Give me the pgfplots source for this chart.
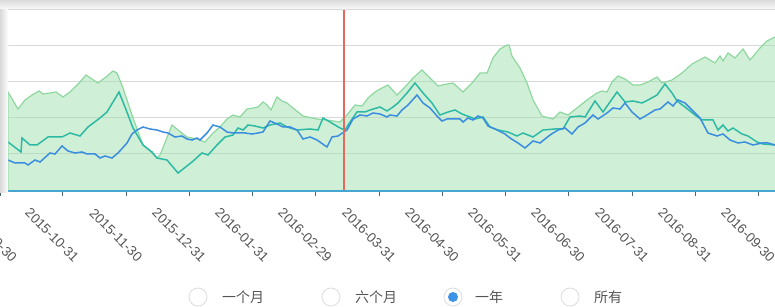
\documentclass[border=0pt]{standalone}
\usepackage{pgfplots}
\pgfplotsset{compat=1.18}
\usepackage{fontspec}
\setmainfont{Liberation Sans}
\newfontfamily\cjk{Noto Sans CJK SC}
\definecolor{gridgray}{HTML}{D9D9D9}
\definecolor{axisblue}{HTML}{45A6D2}
\definecolor{tickc}{HTML}{4A6478}
\definecolor{redline}{HTML}{E8675F}
\definecolor{greenline}{HTML}{8ED8A0}
\definecolor{greenfill}{HTML}{9FE0AE}
\definecolor{tealc}{HTML}{2DBAA5}
\definecolor{bluec}{HTML}{3B8DE0}
\definecolor{labelgray}{HTML}{555555}
\definecolor{ringgray}{HTML}{DDDDDD}
\definecolor{dotblue}{HTML}{3D93E6}
\begin{document}
\begin{tikzpicture}
\useasboundingbox (0,0) rectangle (775pt,307pt);
\shade[top color=gray!28, bottom color=white] (0,296pt) rectangle (775pt,307pt);
\begin{axis}[
  at={(0pt,116pt)}, anchor=south west,
  scale only axis, width=775pt, height=181pt,
  xmin=0, xmax=775, ymin=0, ymax=181,
  axis lines*=left,
  x axis line style={draw=none},
  y axis line style={draw=none},
  ytick={37,73,109,145,181}, yticklabels={},
  ytick style={draw=none},
  ymajorgrids, grid style={draw=gridgray, line width=1pt},
  xtick={0,62,126,189,252,315,379,442,505,568,632,695,758},
  xticklabels={2015-09-30,2015-10-31,2015-11-30,2015-12-31,2016-01-31,2016-02-29,2016-03-31,2016-04-30,2016-05-31,2016-06-30,2016-07-31,2016-08-31,2016-09-30},
  xtick style={draw=tickc, line width=1pt},
  tick align=outside, major tick length=5pt,
  xticklabel style={font=\fontsize{13.5}{14}\selectfont, text=labelgray, anchor=center, xshift=-10pt, yshift=-39pt, rotate=-45},
  clip=false,
]
\addplot[draw=greenline, line width=1.2pt, fill=greenfill, fill opacity=0.5] coordinates {
(8,99)(18,82)(25,91)(32,96)(39,100)(43,97)(50,98)(56,99)(63,94)(70,99)(80,109)(86,116)(92,112)(98,108)(106,114)(113,120)(117,118)(123,103)(133,73)(143,46)(150,40)(157,33)(160,36)(166,51)(172,66)(178,61)(183,57)(187,54)(197,52)(205,49)(213,58)(220,64)(227,72)(233,76)(240,74)(247,82)(253,83)(258,84)(263,89)(267,86)(271,81)(277,94)(282,90)(287,88)(293,83)(303,75)(317,72)(327,71)(340,69)(347,76)(355,86)(362,85)(368,93)(375,99)(382,103)(388,106)(397,96)(405,104)(413,113)(422,121)(430,113)(438,105)(447,107)(453,108)(463,99)(472,108)(480,118)(487,118)(493,133)(500,142)(507,146)(509,146)(512,135)(520,123)(527,108)(533,91)(542,75)(553,72)(560,79)(568,76)(577,83)(587,91)(597,98)(602,100)(607,99)(612,109)(618,115)(625,112)(633,106)(640,106)(648,109)(657,114)(662,108)(672,111)(682,118)(692,127)(705,134)(715,128)(720,135)(723,130)(728,138)(735,133)(743,142)(750,131)(760,143)(767,150)(775,154)(780,156)
} \closedcycle;
\addplot[draw=tealc, line width=1.5pt] coordinates {
(8,49)(21,39)(22,53)(30,46)(37,46)(48,54)(62,54)(70,58)(80,55)(88,64)(100,73)(107,79)(113,89)(119,99)(125,84)(133,63)(143,46)(152,39)(157,33)(167,31)(178,18)(192,29)(202,38)(208,36)(217,46)(225,54)(233,56)(238,63)(243,61)(248,66)(255,65)(263,63)(270,66)(280,68)(287,64)(297,61)(310,62)(318,61)(323,73)(330,69)(340,63)(345,61)(350,69)(357,79)(365,79)(370,81)(380,84)(387,80)(393,84)(398,88)(407,98)(415,108)(423,98)(432,88)(440,76)(448,79)(455,81)(462,77)(470,74)(475,72)(483,74)(490,64)(498,61)(508,59)(517,55)(523,58)(533,54)(543,61)(555,62)(563,62)(570,74)(580,75)(585,74)(595,90)(603,79)(617,99)(625,89)(633,90)(642,88)(648,91)(657,96)(665,107)(672,98)(677,90)(685,84)(695,76)(702,71)(713,71)(718,61)(723,66)(728,60)(733,63)(742,57)(748,55)(757,49)(763,47)(775,46)(780,46)
};
\addplot[draw=bluec, line width=1.5pt] coordinates {
(8,31)(15,28)(25,28)(28,26)(35,31)(40,29)(50,38)(55,37)(62,45)(68,40)(75,38)(82,39)(87,37)(95,37)(100,33)(105,35)(112,33)(118,38)(127,48)(132,57)(137,61)(143,64)(150,62)(157,61)(163,59)(168,58)(175,54)(182,55)(187,52)(192,51)(197,53)(200,51)(207,58)(213,66)(220,64)(227,59)(233,58)(240,58)(245,58)(252,57)(258,58)(263,59)(270,70)(277,67)(283,64)(290,64)(297,61)(303,52)(310,54)(317,51)(327,44)(332,54)(338,55)(347,61)(353,72)(360,76)(367,75)(373,78)(380,77)(387,74)(390,76)(397,75)(402,81)(408,86)(417,96)(423,88)(430,83)(437,75)(442,70)(447,72)(460,72)(463,69)(468,73)(473,71)(478,75)(483,73)(488,65)(495,62)(505,57)(510,53)(518,48)(525,43)(533,50)(540,48)(550,56)(558,61)(565,63)(572,57)(578,64)(585,68)(593,76)(598,72)(607,78)(613,83)(620,82)(625,88)(632,79)(640,72)(647,76)(655,81)(660,82)(668,89)(673,85)(678,91)(685,88)(693,80)(700,73)(708,58)(717,55)(723,57)(730,51)(738,48)(745,49)(753,46)(762,48)(768,48)(775,46)(780,45)
};
\addplot[draw=redline, line width=2.5pt] coordinates {(344,0)(344,181)};
\addplot[draw=axisblue, line width=2.5pt] coordinates {(0,0)(780,0)};
\end{axis}
\shade[left color=gray!30, right color=white] (0,114pt) rectangle (8pt,297pt);
% radio buttons
\begin{scope}[every node/.style={font=\cjk\fontsize{14}{14}\selectfont, text=labelgray, anchor=west, inner sep=0pt}]
\draw[ringgray, line width=0.8pt, fill=white] (198pt,10pt) circle (9pt);
\node at (222pt,10pt) {一个月};
\draw[ringgray, line width=0.8pt, fill=white] (331pt,10pt) circle (9pt);
\node at (355pt,10pt) {六个月};
\draw[ringgray, line width=0.8pt, fill=white] (453pt,10pt) circle (9pt);
\fill[dotblue] (453pt,10pt) circle (5pt);
\node at (475pt,10pt) {一年};
\draw[ringgray, line width=0.8pt, fill=white] (570pt,10pt) circle (9pt);
\node at (594pt,10pt) {所有};
\end{scope}
\end{tikzpicture}
\end{document}
